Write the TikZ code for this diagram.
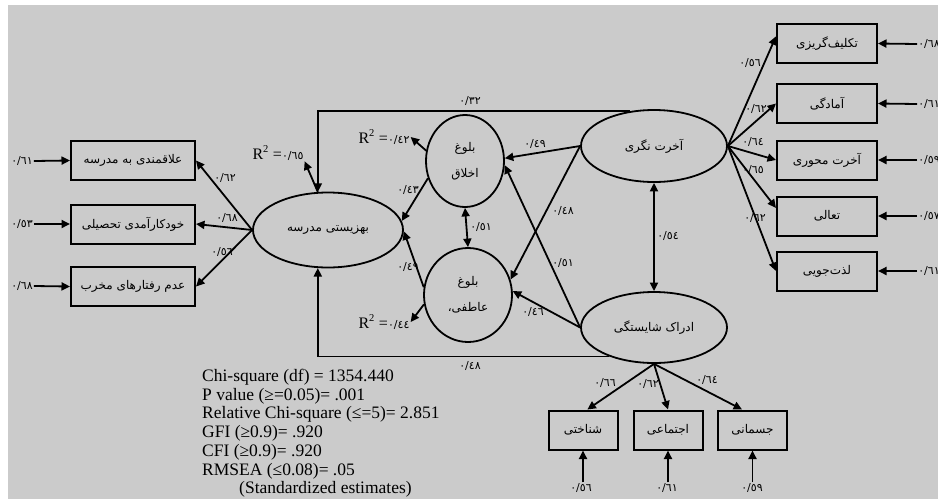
\documentclass[tikz,border=0pt]{standalone}
\usepackage{fontspec}
\setmainfont{Liberation Serif}
\newfontfamily\ar[Script=Arabic]{DejaVu Sans}
\TeXXeTstate=1
\usetikzlibrary{arrows.meta,shapes.geometric,calc}
\definecolor{bgc}{RGB}{203,203,203}
\tikzset{
  arr/.style={line width=1.8pt,-{Triangle[length=8.5pt,width=8pt]}},
  dbl/.style={line width=1.8pt,{Triangle[length=8.5pt,width=8pt]}-{Triangle[length=8.5pt,width=8pt]}},
  obs/.style={draw,line width=2pt,rectangle,inner sep=0pt,font=\ar\fontsize{12}{13}\selectfont},
  lat/.style={draw,line width=1.8pt,ellipse,inner sep=0pt,font=\ar\fontsize{12}{13}\selectfont},
  num/.style={inner sep=1pt,font=\ar\fontsize{11}{12}\selectfont},
  rsq/.style={inner sep=1pt,font=\fontsize{16}{17}\selectfont},
}
\newcommand{\RL}[1]{\beginR #1\endR}
\newcommand{\rsqlab}[1]{R\textsuperscript{\fontsize{10.5}{10}\selectfont 2} ={\ar\fontsize{11}{12}\selectfont #1}}
\begin{document}
\begin{tikzpicture}[x=1pt,y=-1pt]
\useasboundingbox (0,0) rectangle (938,499);
\fill[white] (0,0) rectangle (938,499);
\fill[bgc] (8,5) rectangle (938,499);

% left observed
\node[obs,minimum width=124pt,minimum height=39pt] (b1) at (133,160.5) {\RL{علاقمندی به مدرسه}};
\node[obs,minimum width=124pt,minimum height=39pt] (b2) at (133,224) {\RL{خودکارآمدی تحصیلی}};
\node[obs,minimum width=124pt,minimum height=39pt] (b3) at (133,286.5) {\RL{عدم رفتارهای مخرب}};

% latent
\node[lat,minimum width=150pt,minimum height=75pt] (bz) at (328,230) {\RL{بهزیستی مدرسه}};
\node[lat,minimum width=78pt,minimum height=92pt,align=center,font=\ar\fontsize{12}{26}\selectfont] (ax) at (465,161) {\RL{بلوغ}\\\RL{اخلاق}};
\node[lat,minimum width=88pt,minimum height=94pt,align=center,font=\ar\fontsize{12}{26}\selectfont] (af) at (468,295) {\RL{بلوغ}\\\RL{عاطفی،}};
\node[lat,minimum width=146pt,minimum height=72pt] (ak) at (654,146) {\RL{آخرت نگری}};
\node[lat,minimum width=146pt,minimum height=71pt] (ad) at (654,327.5) {\RL{ادراک شایستگی}};

% right observed
\node[obs,minimum width=100pt,minimum height=39pt] (r1) at (827,43.5) {\RL{تکلیف‌گریزی}};
\node[obs,minimum width=100pt,minimum height=39pt] (r2) at (827,103.5) {\RL{آمادگی}};
\node[obs,minimum width=100pt,minimum height=39pt] (r3) at (827,160) {\RL{آخرت محوری}};
\node[obs,minimum width=100pt,minimum height=39pt] (r4) at (827,216) {\RL{تعالی}};
\node[obs,minimum width=100pt,minimum height=39pt] (r5) at (827,271) {\RL{لذت‌جویی}};

% bottom observed
\node[obs,minimum width=69pt,minimum height=39pt] (s1) at (583,430) {\RL{شناختی}};
\node[obs,minimum width=69pt,minimum height=39pt] (s2) at (668,430) {\RL{اجتماعی}};
\node[obs,minimum width=69pt,minimum height=39pt] (s3) at (752.5,430) {\RL{جسمانی}};

% error labels
\node[num] (el1) at (22,161) {٠/٦١};
\node[num] (el2) at (22,224) {٠/٥٣};
\node[num] (el3) at (22,286) {٠/٦٨};
\node[num] (er1) at (929,44) {٠/٦٨};
\node[num] (er2) at (929,104) {٠/٦١};
\node[num] (er3) at (929,160) {٠/٥٩};
\node[num] (er4) at (929,216) {٠/٥٧};
\node[num] (er5) at (929,271) {٠/٦١};
\node[num] (eb1) at (581,488) {٠/٥٦};
\node[num] (eb2) at (667,488) {٠/٦١};
\node[num] (eb3) at (752,488) {٠/٥٩};

\draw[arr] (el1.east) -- (b1.west);
\draw[arr] (el2.east) -- (b2.west);
\draw[arr] (el3.east) -- (b3.west);
\draw[arr] (er1.west) -- (r1.east);
\draw[arr] (er2.west) -- (r2.east);
\draw[arr] (er3.west) -- (r3.east);
\draw[arr] (er4.west) -- (r4.east);
\draw[arr] (er5.west) -- (r5.east);
\draw[arr] (eb1.north -| s1.south) -- (s1.south);
\draw[arr] (eb2.north -| s2.south) -- (s2.south);
\draw[arr] (eb3.north -| s3.south) -- (s3.south);

% R squared
\node[rsq] (q1) at (278,153) {\rsqlab{٠/٦٥}};
\node[rsq] (q2) at (384,137) {\rsqlab{٠/٤٢}};
\node[rsq] (q3) at (384,322) {\rsqlab{٠/٤٤}};
\draw[arr] (bz.105) -- (q1.south east);
\draw[arr] (ax.165) -- (q2.east);
\draw[arr] (af.192) -- (q3.east);

% left loadings
\draw[arr] (bz.west) -- (b1.east);
\draw[arr] (bz.west) -- (b2.east);
\draw[arr] (bz.west) -- (b3.east);
\node[num] at (225,178) {٠/٦٢};
\node[num] at (227,218) {٠/٦٨};
\node[num] at (222,252) {٠/٥٦};

% structural paths
\draw[arr] (ak.125) -| (bz.105);
\draw[arr] (ad.213) -| (bz.255);
\node[num] at (470,101) {٠/٣٢};
\node[num] at (470,366) {٠/٤٨};
\draw[arr] (ax.205) -- (bz.7);
\draw[arr] (af.170) -- (bz.-1);
\node[num] at (408,190) {٠/٤٣};
\node[num] at (408,267) {٠/٤٩};
\draw[dbl] (ax.south) -- (af.north);
\node[num] at (481,227) {٠/٥١};
\draw[arr] (ak.west) -- (ax.4);
\draw[arr] (ak.west) -- (af.20);
\draw[arr] (ad.west) -- (ax.-6);
\draw[arr] (ad.west) -- (af.5);
\node[num] at (535,144) {٠/٤٩};
\node[num] at (563,211) {٠/٤٨};
\node[num] at (563,263) {٠/٥١};
\node[num] at (533,312) {٠/٤٦};
\draw[dbl] (ak.south) -- (ad.north);
\node[num] at (668,236) {٠/٥٤};

% right loadings
\draw[arr] (ak.east) -- (r1.172);
\draw[arr] (ak.east) -- (r2.west);
\draw[arr] (ak.east) -- (r3.west);
\draw[arr] (ak.east) -- (r4.171);
\draw[arr] (ak.east) -- (r5.west);
\node[num] at (750,63) {٠/٥٦};
\node[num] at (756,109) {٠/٦٢};
\node[num] at (753,142) {٠/٦٤};
\node[num] at (753,170) {٠/٦٥};
\node[num] at (755,218) {٠/٦٢};

% bottom loadings
\draw[arr] (ad.south) -- (s1.78);
\draw[arr] (ad.south) -- (s2.north);
\draw[arr] (ad.south) -- (s3.117);
\node[num] at (605,383) {٠/٦٦};
\node[num] at (648,384) {٠/٦٢};
\node[num] at (707,380) {٠/٦٤};

% fit statistics
\node[anchor=north west,align=left,inner sep=0pt,font=\fontsize{17.5}{18.7}\selectfont] (fit) at (202,369) {Chi-square (df) = 1354.440\\
P value (≥=0.05)= .001\\
Relative Chi-square (≤=5)= 2.851\\
GFI (≥0.9)= .920\\
CFI (≥0.9)= .920\\
RMSEA (≤0.08)= .05\\
\hspace*{37pt}(Standardized estimates)};
\end{tikzpicture}
\end{document}
